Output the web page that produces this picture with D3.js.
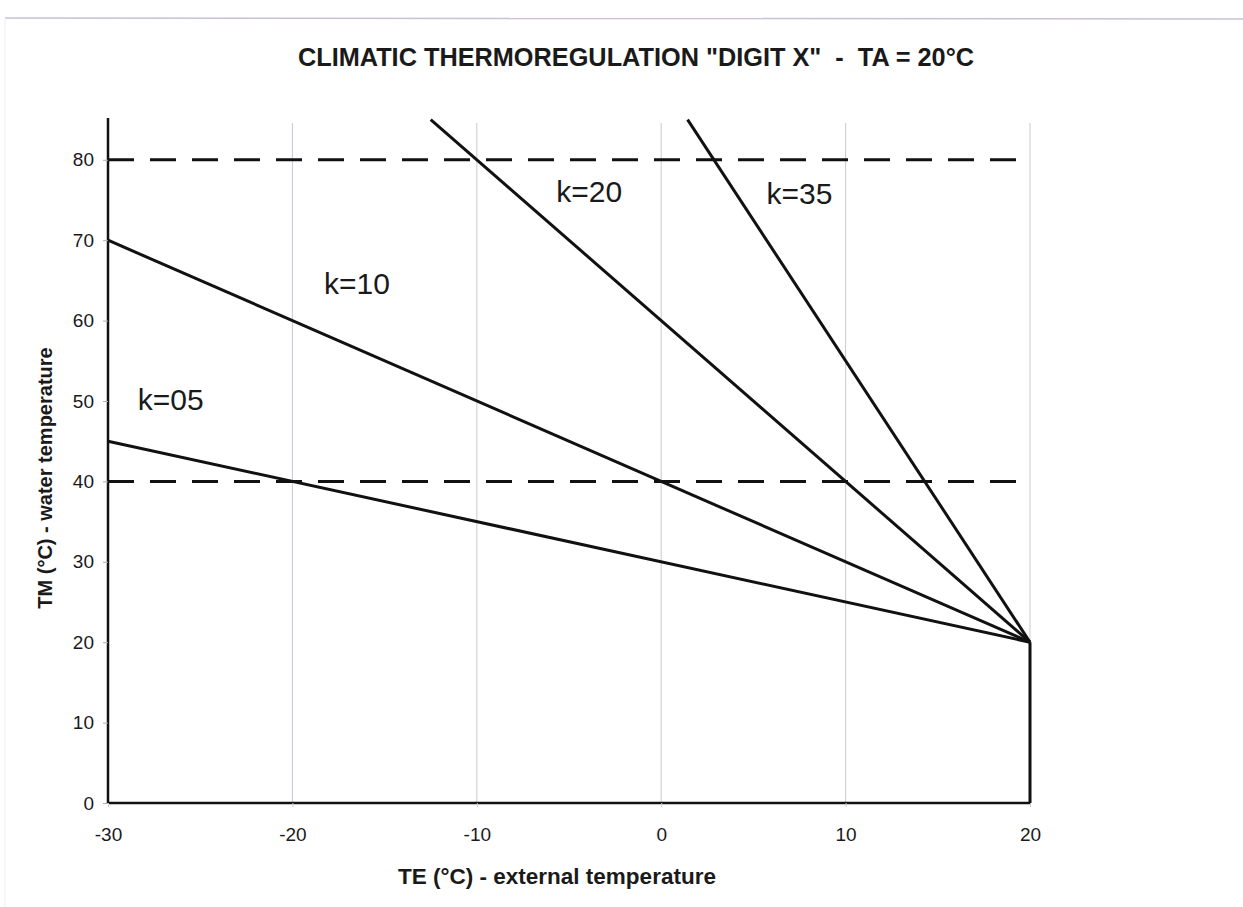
<!DOCTYPE html>
<html>
<head>
<meta charset="utf-8">
<script src="https://cdn.jsdelivr.net/npm/d3@7"></script>
<style>
  body { margin: 0; background: #fff; }
  #chart { width: 1243px; height: 907px; }
  text { font-family: "Liberation Sans", Arial, sans-serif; fill: #1a1a1a; }
</style>
</head>
<body>
<div id="chart"></div>
<script>
// x values (TE) and curves (TM) for each k
const xTicks = [-30, -20, -10, 0, 10, 20];
const yTicks = [0, 10, 20, 30, 40, 50, 60, 70, 80];
const curveK05 = [{ te: -30, tm: 45 }, { te: 20, tm: 20 }];
const curveK10 = [{ te: -30, tm: 70 }, { te: 20, tm: 20 }];
const curveK20 = [{ te: -12.5, tm: 85 }, { te: 20, tm: 20 }];
const curveK35 = [{ te: 1.43, tm: 85 }, { te: 20, tm: 20 }];
const limits = [80, 40];
const curveLabels = [
    { text: "k=05", te: -26.6, tm: 48.9 },
    { text: "k=10", te: -16.5, tm: 63.3 },
    { text: "k=20", te: -3.9, tm: 74.8 },
    { text: "k=35", te: 7.5, tm: 74.5 }
];

function createChart(containerId) {
    const container = d3.select(`#${containerId}`);
    const width = 1243, height = 907;
    const margin = { top: 118, right: 213, bottom: 104, left: 108 };
    const innerWidth = width - margin.left - margin.right;
    const innerHeight = height - margin.top - margin.bottom;

    const root = container.append("svg")
        .attr("width", width)
        .attr("height", height);

    // faint scan border
    root.append("line")
        .attr("x1", 5).attr("x2", width).attr("y1", 18).attr("y2", 19)
        .attr("stroke", "#c8c0d8").attr("stroke-width", 1.5);
    root.append("line")
        .attr("x1", 5).attr("x2", 5).attr("y1", 18).attr("y2", height)
        .attr("stroke", "#eee").attr("stroke-width", 1);

    const svg = root.append("g")
        .attr("transform", `translate(${margin.left}, ${margin.top})`);

    const x = d3.scaleLinear().domain([-30, 20]).range([0, innerWidth]);
    const y = d3.scaleLinear().domain([0, 85.2]).range([innerHeight, 0]);

    // vertical gridlines
    svg.selectAll("line.grid")
        .data(xTicks.slice(1))
        .enter().append("line")
        .attr("class", "grid")
        .attr("x1", d => x(d)).attr("x2", d => x(d))
        .attr("y1", y(85.2) + 5).attr("y2", innerHeight)
        .attr("stroke", "#c9c9d6")
        .attr("stroke-width", 1);

    // dashed limit lines
    svg.selectAll("line.limit")
        .data(limits)
        .enter().append("line")
        .attr("class", "limit")
        .attr("x1", 0).attr("x2", innerWidth)
        .attr("y1", d => y(d)).attr("y2", d => y(d))
        .attr("stroke", "#111")
        .attr("stroke-width", 3)
        .attr("stroke-dasharray", "26 16");

    const line = d3.line()
        .x(d => x(d.te))
        .y(d => y(d.tm));

    [curveK05, curveK10, curveK20, curveK35].forEach(c => {
        svg.append("path")
            .datum(c)
            .attr("fill", "none")
            .attr("stroke", "#111")
            .attr("stroke-width", 3)
            .attr("d", line);
    });

    // closing vertical at TE = 20
    svg.append("line")
        .attr("x1", x(20)).attr("x2", x(20))
        .attr("y1", y(20)).attr("y2", y(0))
        .attr("stroke", "#111").attr("stroke-width", 3);

    // Y-axis
    const yAxis = svg.append("g")
        .call(d3.axisLeft(y).tickValues(yTicks).tickSize(5).tickPadding(9)
            .tickFormat(d => String(d)));
    yAxis.select(".domain").attr("stroke", "#111").attr("stroke-width", 2.5)
        .attr("d", `M0,${y(85.2)}V${innerHeight}`);
    yAxis.selectAll(".tick line").attr("stroke", "#b9a9a9");
    yAxis.selectAll(".tick text").style("font-size", "19px");

    // X-axis
    const xAxis = svg.append("g")
        .attr("transform", `translate(0,${innerHeight})`)
        .call(d3.axisBottom(x).tickValues(xTicks).tickSize(4).tickPadding(21)
            .tickFormat(d => String(d)));
    xAxis.select(".domain").attr("stroke", "#111").attr("stroke-width", 2.5)
        .attr("d", `M0,0H${innerWidth}`);
    xAxis.selectAll(".tick line").attr("stroke", "#ccc");
    xAxis.selectAll(".tick text").style("font-size", "19px");

    // curve labels
    svg.selectAll("text.klabel")
        .data(curveLabels)
        .enter().append("text")
        .attr("class", "klabel")
        .attr("x", d => x(d.te))
        .attr("y", d => y(d.tm))
        .attr("text-anchor", "middle")
        .style("font-size", "30px")
        .text(d => d.text);

    // Title
    root.append("text")
        .attr("x", 636)
        .attr("y", 66)
        .attr("text-anchor", "middle")
        .style("font-weight", "bold")
        .style("font-size", "25.3px")
        .style("white-space", "pre")
        .text('CLIMATIC THERMOREGULATION "DIGIT X"  -  TA = 20°C');

    // X-axis label
    root.append("text")
        .attr("text-anchor", "middle")
        .attr("x", 557)
        .attr("y", 884)
        .style("font-weight", "bold")
        .style("font-size", "22.5px")
        .text("TE (°C) - external temperature");

    // Y-axis label
    root.append("text")
        .attr("text-anchor", "middle")
        .attr("transform", "rotate(-90)")
        .attr("x", -478)
        .attr("y", 52)
        .style("font-weight", "bold")
        .style("font-size", "20px")
        .text("TM (°C) - water temperature");
}

createChart("chart");
</script>
</body>
</html>
